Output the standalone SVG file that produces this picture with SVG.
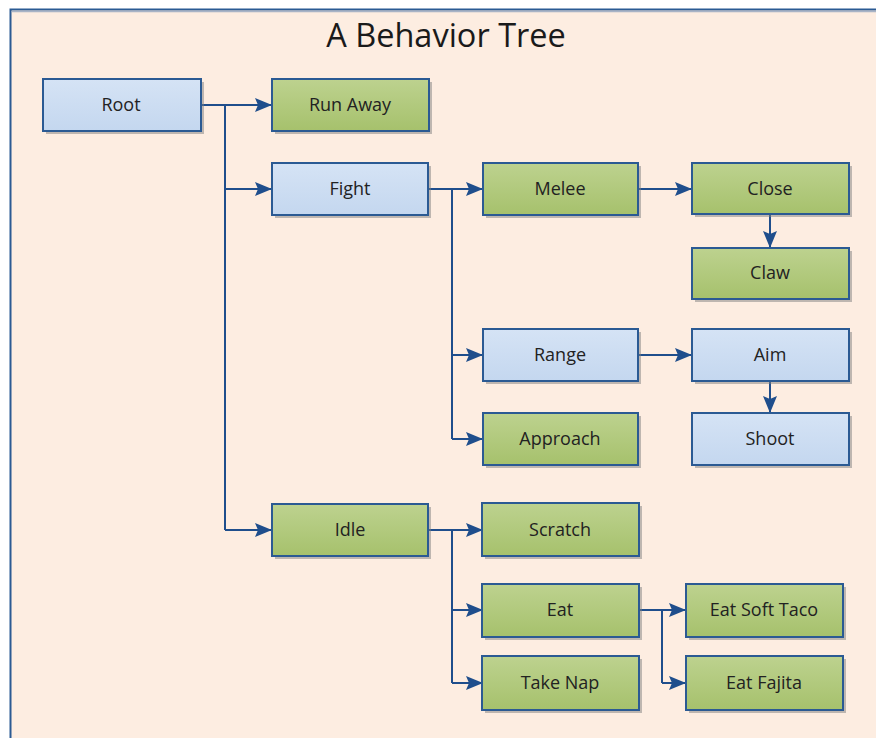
<svg xmlns="http://www.w3.org/2000/svg" width="876" height="738" viewBox="0 0 876 738">
<defs>
<linearGradient id="gBlue" x1="0" y1="0" x2="0" y2="1"><stop offset="0" stop-color="#D5E3F5"/><stop offset="1" stop-color="#C4D7EF"/></linearGradient>
<linearGradient id="gGreen" x1="0" y1="0" x2="0" y2="1"><stop offset="0" stop-color="#BDD28F"/><stop offset="1" stop-color="#A6C16C"/></linearGradient>
<marker id="arr" viewBox="0 0 17 14" refX="17" refY="7" markerWidth="17" markerHeight="14" markerUnits="userSpaceOnUse" orient="auto"><path d="M0,0 L17,7 L0,14 L3,7 Z" fill="#1F4E8C"/></marker>
</defs>
<style>
.shadow{fill:#7f7f7f;opacity:0.5}
.blue{fill:url(#gBlue);stroke:#2B5A93;stroke-width:2}
.green{fill:url(#gGreen);stroke:#2B5A93;stroke-width:2}
.lbl{font-family:"Open Sans","Liberation Sans",sans-serif;font-size:18px;fill:#222222;text-anchor:middle}
.c{fill:none;stroke:#1F4E8C;stroke-width:2}
</style>
<rect x="0" y="0" width="876" height="738" fill="#FFFFFF"/>
<rect x="10.5" y="9.5" width="880" height="740" fill="#FDEDE1" stroke="#2B5A93" stroke-width="2"/>
<line x1="12" y1="11.5" x2="876" y2="11.5" stroke="#A9B4C6" stroke-width="1.5"/>
<text x="446" y="47" font-family="Open Sans, Liberation Sans, sans-serif" font-size="32.5" fill="#1a1a1a" text-anchor="middle">A Behavior Tree</text>

<g id="connectors">
<path class="c" d="M201,105 H225 V530"/>
<path class="c" d="M225,105 H272" marker-end="url(#arr)"/>
<path class="c" d="M225,189 H272" marker-end="url(#arr)"/>
<path class="c" d="M225,530 H272" marker-end="url(#arr)"/>
<path class="c" d="M428,189 H452 V439"/>
<path class="c" d="M452,189 H483" marker-end="url(#arr)"/>
<path class="c" d="M452,355 H483" marker-end="url(#arr)"/>
<path class="c" d="M452,439 H483" marker-end="url(#arr)"/>
<path class="c" d="M638,189 H692" marker-end="url(#arr)"/>
<path class="c" d="M770,214 V248" marker-end="url(#arr)"/>
<path class="c" d="M638,355 H692" marker-end="url(#arr)"/>
<path class="c" d="M770,381 V413" marker-end="url(#arr)"/>
<path class="c" d="M428,530 H452 V683"/>
<path class="c" d="M452,530 H483" marker-end="url(#arr)"/>
<path class="c" d="M452,610 H483" marker-end="url(#arr)"/>
<path class="c" d="M452,683 H483" marker-end="url(#arr)"/>
<path class="c" d="M638,610 H662 V683"/>
<path class="c" d="M662,610 H686" marker-end="url(#arr)"/>
<path class="c" d="M662,683 H686" marker-end="url(#arr)"/>
</g>

<g id="root"><rect class="shadow" x="46" y="82" width="158" height="52"/><rect class="blue" x="43" y="79" width="158" height="52"/><text class="lbl" x="121" y="111">Root</text></g>
<g id="runaway"><rect class="shadow" x="275" y="82" width="157" height="52"/><rect class="green" x="272" y="79" width="157" height="52"/><text class="lbl" x="350" y="111">Run Away</text></g>
<g id="fight"><rect class="shadow" x="275" y="166" width="156" height="52"/><rect class="blue" x="272" y="163" width="156" height="52"/><text class="lbl" x="350" y="195">Fight</text></g>
<g id="melee"><rect class="shadow" x="486" y="166" width="155" height="52"/><rect class="green" x="483" y="163" width="155" height="52"/><text class="lbl" x="560" y="195">Melee</text></g>
<g id="close"><rect class="shadow" x="695" y="166" width="157" height="51"/><rect class="green" x="692" y="163" width="157" height="51"/><text class="lbl" x="770" y="195">Close</text></g>
<g id="claw"><rect class="shadow" x="695" y="251" width="157" height="51"/><rect class="green" x="692" y="248" width="157" height="51"/><text class="lbl" x="770" y="279">Claw</text></g>
<g id="range"><rect class="shadow" x="486" y="332" width="155" height="52"/><rect class="blue" x="483" y="329" width="155" height="52"/><text class="lbl" x="560" y="361">Range</text></g>
<g id="aim"><rect class="shadow" x="695" y="332" width="157" height="52"/><rect class="blue" x="692" y="329" width="157" height="52"/><text class="lbl" x="770" y="361">Aim</text></g>
<g id="approach"><rect class="shadow" x="486" y="416" width="155" height="52"/><rect class="green" x="483" y="413" width="155" height="52"/><text class="lbl" x="560" y="445">Approach</text></g>
<g id="shoot"><rect class="shadow" x="695" y="416" width="157" height="52"/><rect class="blue" x="692" y="413" width="157" height="52"/><text class="lbl" x="770" y="445">Shoot</text></g>
<g id="idle"><rect class="shadow" x="275" y="507" width="156" height="52"/><rect class="green" x="272" y="504" width="156" height="52"/><text class="lbl" x="350" y="536">Idle</text></g>
<g id="scratch"><rect class="shadow" x="485" y="506" width="157" height="53"/><rect class="green" x="482" y="503" width="157" height="53"/><text class="lbl" x="560" y="536">Scratch</text></g>
<g id="eat"><rect class="shadow" x="485" y="587" width="157" height="53"/><rect class="green" x="482" y="584" width="157" height="53"/><text class="lbl" x="560" y="616">Eat</text></g>
<g id="takenap"><rect class="shadow" x="485" y="659" width="157" height="54"/><rect class="green" x="482" y="656" width="157" height="54"/><text class="lbl" x="560" y="689">Take Nap</text></g>
<g id="eatsofttaco"><rect class="shadow" x="689" y="587" width="157" height="53"/><rect class="green" x="686" y="584" width="157" height="53"/><text class="lbl" x="764" y="616">Eat Soft Taco</text></g>
<g id="eatfajita"><rect class="shadow" x="689" y="659" width="157" height="54"/><rect class="green" x="686" y="656" width="157" height="54"/><text class="lbl" x="764" y="689">Eat Fajita</text></g>
</svg>
